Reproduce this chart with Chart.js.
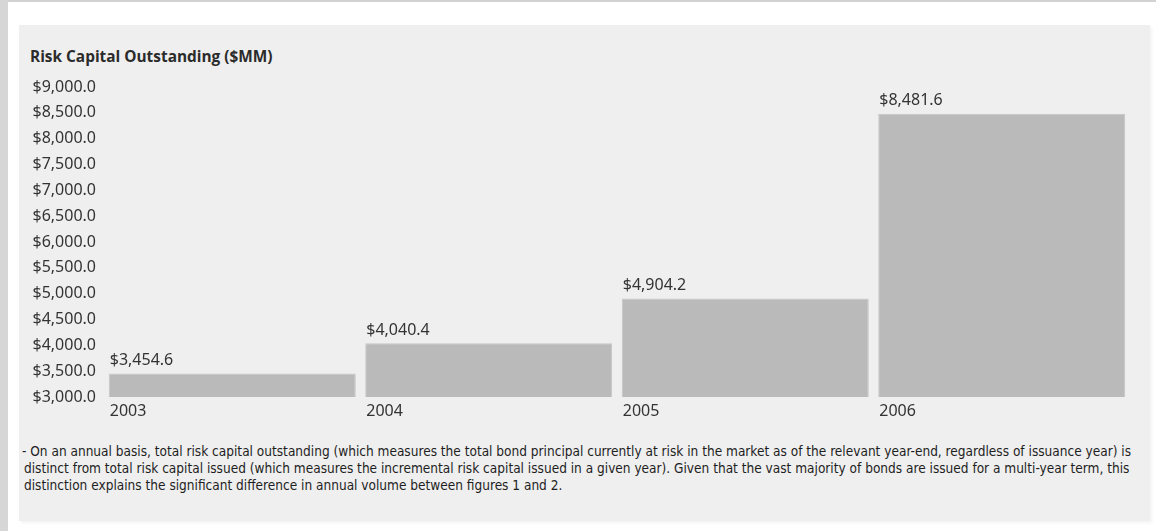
<!DOCTYPE html>
<html>
<head>
<meta charset="utf-8">
<script src="https://cdn.jsdelivr.net/npm/chart.js@4/dist/chart.umd.min.js"></script>
<style>
  html, body { margin: 0; padding: 0; background: #ffffff; }
  body { width: 1156px; height: 531px; position: relative; overflow: hidden; }
  .edge { position: absolute; left: 0; top: 0; width: 8px; height: 531px; background: #d6d6d6; }
  .rule { position: absolute; left: 0; top: 0; width: 1156px; height: 2px; background: #d2d2d2; }
  .panel { position: absolute; left: 19px; top: 25px; width: 1131px; height: 496px; background: #efefef;
           box-shadow: 2px 2px 3px rgba(0,0,0,0.05); }
  .title { position: absolute; left: 30px; top: 46px; font: bold 15.4px "Open Sans", "Noto Sans", sans-serif;
           color: #2b2b2b; white-space: nowrap; }
  .chart { position: absolute; left: 19px; top: 25px; width: 1131px; height: 405px; }
  .note { position: absolute; left: 22px; top: 443px; font: 14px "Liberation Sans Narrow", "DejaVu Sans Condensed", "Noto Sans", sans-serif;
          color: #1e1e1e; line-height: 17px; white-space: nowrap; }
  .note div { transform-origin: 0 0; width: max-content; }
  .note .cont { margin-left: 2px; }
</style>
</head>
<body>
<div class="rule"></div>
<div class="edge"></div>
<div class="panel"></div>
<div class="title">Risk Capital Outstanding ($MM)</div>
<div class="chart"><canvas id="c" width="1131" height="405"></canvas></div>
<div class="note" id="note">
  <div>- On an annual basis, total risk capital outstanding (which measures the total bond principal currently at risk in the market as of the relevant year-end, regardless of issuance year) is</div>
  <div class="cont">distinct from total risk capital issued (which measures the incremental risk capital issued in a given year). Given that the vast majority of bonds are issued for a multi-year term, this</div>
  <div class="cont">distinction explains the significant difference in annual volume between figures 1 and 2.</div>
</div>
<script>
// Risk capital outstanding at year-end, $MM
const years = ['2003', '2004', '2005', '2006'];
const outstanding = [3454.6, 4040.4, 4904.2, 8481.6];
const axisMin = 3000;
const axisMax = 9000;
const axisStep = 500;

const money = v => '$' + v.toLocaleString('en-US', { minimumFractionDigits: 1, maximumFractionDigits: 1 });

const fontFamily = '"Noto Sans", "Open Sans", sans-serif';
const fontSize = 16;
const textColor = '#333333';

// Year labels under each bar and value labels above it, left-aligned to the bar edge
const barLabels = {
  id: 'barLabels',
  afterDatasetsDraw(chart) {
    const ctx = chart.ctx;
    const meta = chart.getDatasetMeta(0);
    const bottom = chart.chartArea.bottom;
    ctx.save();
    ctx.font = fontSize + 'px ' + fontFamily;
    ctx.fillStyle = textColor;
    ctx.textAlign = 'left';
    ctx.textBaseline = 'middle';
    meta.data.forEach((bar, i) => {
      const left = bar.x - bar.width / 2;
      ctx.fillText(money(outstanding[i]), left + 1, bar.y - 13);
      ctx.fillText(years[i], left + 1, bottom + 14);
    });
    ctx.restore();
  }
};

new Chart(document.getElementById('c'), {
  type: 'bar',
  data: {
    labels: years,
    datasets: [{
      data: outstanding,
      backgroundColor: '#bababa',
      borderColor: '#c6c6c6',
      borderWidth: 1,
      borderSkipped: 'bottom',
      barPercentage: 0.963,
      categoryPercentage: 1
    }]
  },
  options: {
    responsive: false,
    animation: false,
    layout: { padding: { top: 62, right: 20, bottom: 0, left: 0 } },
    plugins: { legend: { display: false }, tooltip: { enabled: false }, title: { display: false } },
    scales: {
      x: {
        grid: { display: false, drawTicks: false },
        border: { display: false },
        ticks: { display: false },
        afterFit(scale) { scale.height = 33; }
      },
      y: {
        min: axisMin,
        max: axisMax,
        grid: { display: false, drawTicks: false },
        border: { display: false },
        ticks: {
          stepSize: axisStep,
          padding: 8,
          color: textColor,
          font: { family: fontFamily, size: fontSize },
          callback: v => money(v)
        },
        afterFit(scale) { scale.width = 85; }
      }
    }
  },
  plugins: [barLabels]
});

// Condense the footnote uniformly so its first line spans the panel
const noteLines = document.querySelectorAll('#note div');
const firstWidth = noteLines[0].getBoundingClientRect().width;
const squeeze = firstWidth > 0 ? 1109 / firstWidth : 1;
noteLines.forEach(el => { el.style.transform = 'scaleX(' + squeeze + ')'; });
</script>
</body>
</html>
